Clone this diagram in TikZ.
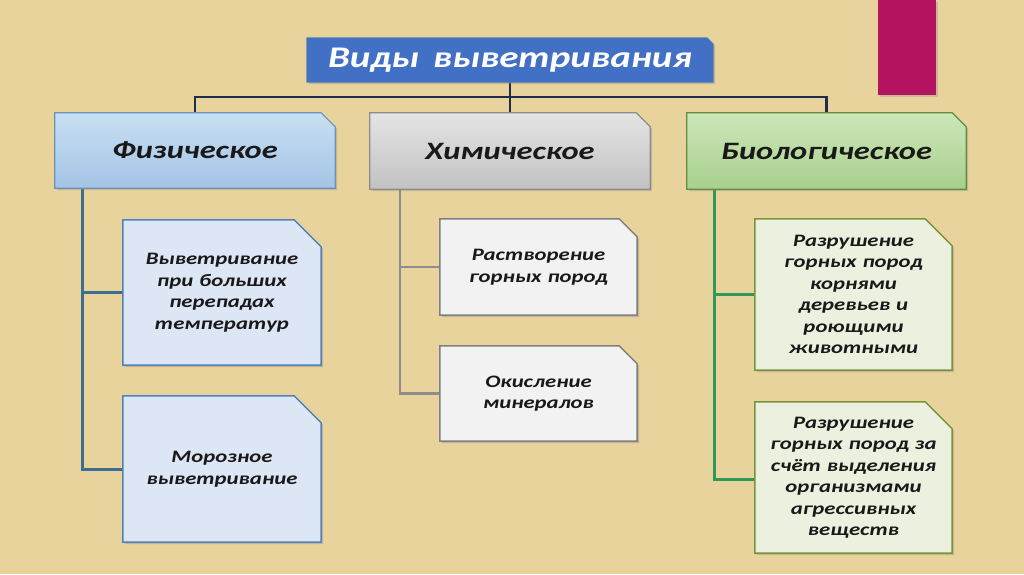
\documentclass[tikz,border=0pt]{standalone}
\usepackage{fontspec}
\setmainfont{Carlito}
\newfontfamily\widefont[FakeStretch=1.3]{Carlito}
\usetikzlibrary{shadows}
\pgfdeclarelayer{back}
\pgfdeclarelayer{bg}
\pgfsetlayers{back,bg,main}
\definecolor{paper}{HTML}{E9D39C}
\definecolor{accent}{HTML}{B3135F}
\definecolor{titleblue}{HTML}{4270C4}
\definecolor{navy}{HTML}{1F2D4D}
\definecolor{physline}{HTML}{3C6E91}
\definecolor{chemline}{HTML}{8E8E8E}
\definecolor{bioline}{HTML}{2E9A5A}
\definecolor{physA}{HTML}{C9DFF2}
\definecolor{physB}{HTML}{A3C4E6}
\definecolor{physD}{HTML}{6A92BD}
\definecolor{chemA}{HTML}{E4E4E4}
\definecolor{chemB}{HTML}{C2C2C2}
\definecolor{chemD}{HTML}{8C8C8C}
\definecolor{bioA}{HTML}{CDE6BA}
\definecolor{bioB}{HTML}{A8D08C}
\definecolor{bioD}{HTML}{5E8F3E}
\definecolor{physS}{HTML}{DCE6F4}
\definecolor{physSD}{HTML}{4F81BD}
\definecolor{chemS}{HTML}{F2F2F2}
\definecolor{chemSD}{HTML}{7F7F7F}
\definecolor{bioS}{HTML}{EBF1DE}
\definecolor{bioSD}{HTML}{77933C}
\newcommand\snipshape[3]{%
  \begin{pgfonlayer}{bg}
  \path[#3] (#1.south west) -- (#1.north west) -- ([xshift=-#2]#1.north east)
     -- ([yshift=-#2]#1.north east) -- (#1.south east) -- cycle;
  \end{pgfonlayer}}
\tikzset{
  box/.style={inner sep=0pt, align=center, text=black!90},
  catbox/.style={box, font=\widefont\fontsize{25}{28}\selectfont\bfseries\itshape},
  subbox/.style={box, text width=195pt, font=\widefont\fontsize{17.5}{21.5}\selectfont\bfseries\itshape},
  shade/.style={drop shadow={opacity=0.35, shadow xshift=2pt, shadow yshift=-2pt}},
  physcat/.style={shade, top color=physA, bottom color=physB, draw=physD, line width=1.2pt},
  chemcat/.style={shade, top color=chemA, bottom color=chemB, draw=chemD, line width=1.2pt},
  biocat/.style={shade, top color=bioA, bottom color=bioB, draw=bioD, line width=1.2pt},
  physsub/.style={shade, fill=physS, draw=physSD, line width=1.5pt},
  chemsub/.style={shade, fill=chemS, draw=chemSD, line width=1.5pt},
  biosub/.style={shade, fill=bioS, draw=bioSD, line width=1.5pt},
}
\begin{document}
\begin{tikzpicture}[x=1pt,y=-1pt]
\useasboundingbox (0,0) rectangle (1024,574);
\begin{pgfonlayer}{back}
\fill[paper] (0,0) rectangle (1024,574);
\fill[accent, drop shadow={opacity=0.3, shadow xshift=2pt, shadow yshift=-2pt}] (878,0) rectangle (936,95);
\end{pgfonlayer}

% title
\node[box, minimum width=406pt, minimum height=44pt, text=white,
      font=\widefont\fontsize{30}{34}\selectfont\bfseries\itshape] (title) at (510,60) {Виды\, выветривания};
\snipshape{title}{6pt}{shade, fill=titleblue, draw=physSD, line width=0.8pt}

% categories
\node[catbox, minimum width=280pt, minimum height=75pt] (phys) at (195,150.5) {Физическое};
\snipshape{phys}{14pt}{physcat}
\node[catbox, minimum width=280pt, minimum height=76pt] (chem) at (510,151) {Химическое};
\snipshape{chem}{14pt}{chemcat}
\node[catbox, minimum width=279pt, minimum height=76pt] (bio) at (826.5,151) {Биологическое};
\snipshape{bio}{14pt}{biocat}

% sub boxes
\node[subbox, minimum width=198pt, minimum height=145pt] (p1) at (222,292.5)
  {Выветривание\\при больших\\перепадах\\температур};
\snipshape{p1}{27pt}{physsub}
\node[subbox, minimum width=198pt, minimum height=146pt] (p2) at (222,469)
  {Морозное\\выветривание};
\snipshape{p2}{27pt}{physsub}
\node[subbox, minimum width=197pt, minimum height=96pt] (c1) at (538.5,267)
  {Растворение\\горных пород};
\snipshape{c1}{18pt}{chemsub}
\node[subbox, minimum width=197pt, minimum height=95pt] (c2) at (538.5,393.5)
  {Окисление\\минералов};
\snipshape{c2}{18pt}{chemsub}
\node[subbox, minimum width=197pt, minimum height=151pt] (b1) at (853.5,294.5)
  {Разрушение\\горных пород\\корнями\\деревьев и\\роющими\\животными};
\snipshape{b1}{27pt}{biosub}
\node[subbox, minimum width=197pt, minimum height=151pt] (b2) at (853.5,477.5)
  {Разрушение\\горных пород за\\счёт выделения\\организмами\\агрессивных\\веществ};
\snipshape{b2}{27pt}{biosub}

% connectors
\coordinate (hub) at (510,97);
\begin{pgfonlayer}{back}
\draw[navy, line width=2.5pt] (title.south) -- (chem.north);
\draw[navy, line width=2.5pt] (phys.north) -- (phys.north |- hub) -- (bio.north |- hub) -- (bio.north);
\coordinate (pv) at ([xshift=28pt]phys.south west);
\draw[physline, line width=3pt] (pv) |- (p2.west);
\draw[physline, line width=3pt] (pv |- p1.west) -- (p1.west);
\coordinate (cv) at ([xshift=30pt]chem.south west);
\draw[chemline, line width=2.5pt] (cv) |- (c2.west);
\draw[chemline, line width=2.5pt] (cv |- c1.west) -- (c1.west);
\coordinate (bv) at ([xshift=28pt]bio.south west);
\draw[bioline, line width=3pt] (bv) |- ([yshift=-2pt]b2.west);
\draw[bioline, line width=3pt] (bv |- b1.west) -- (b1.west);
\end{pgfonlayer}
\end{tikzpicture}
\end{document}
